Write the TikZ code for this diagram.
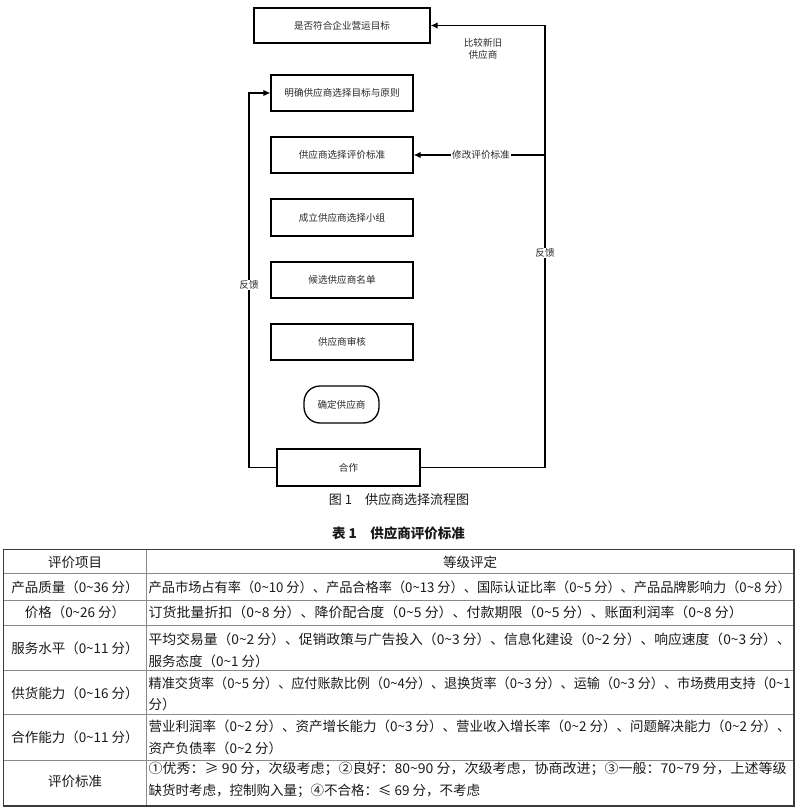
\documentclass[tikz,border=0pt]{standalone}
\usepackage{fontspec}
\usepackage{graphicx}
\setmainfont{Noto Sans CJK SC}
\usetikzlibrary{arrows.meta}
\newcommand{\fcfont}{\fontsize{9.6}{11.5}\selectfont}
\newcommand{\tbfont}{\fontsize{13.5}{16}\selectfont}
\newcommand{\fullline}[1]{\resizebox{642pt}{\height}{#1}}
\definecolor{txt}{HTML}{1A1A1A}
\definecolor{fctxt}{HTML}{2A2A2A}
\definecolor{outer}{HTML}{3A3A3A}
\definecolor{inner}{HTML}{8A8A8A}
\begin{document}
\begin{tikzpicture}[x=1pt,y=-1pt,
  fbox/.style={draw=black, line width=1.3pt, inner sep=0pt, font=\fcfont, text=fctxt},
  conn/.style={draw=black, line width=1.3pt},
  arr/.style={conn, -{Latex[length=7pt,width=6.5pt]}},
  lbl/.style={font=\fcfont, text=fctxt, inner sep=1pt},
  cellc/.style={font=\tbfont, text=txt, inner sep=0pt, anchor=center},
  celll/.style={font=\tbfont, text=txt, inner sep=0pt, anchor=west},
  hline/.style={draw=inner, line width=0.8pt}
]
\useasboundingbox[fill=white] (0,0) rectangle (800,810);

% ---------------- flowchart ----------------
\node[fbox, minimum width=176pt, minimum height=35pt] (b1) at (342,25.5) {是否符合企业营运目标};
\node[fbox, minimum width=142pt, minimum height=36pt] (b2) at (342,93) {明确供应商选择目标与原则};
\node[fbox, minimum width=142pt, minimum height=36pt] (b3) at (342,155) {供应商选择评价标准};
\node[fbox, minimum width=142pt, minimum height=37pt] (b4) at (342,217.5) {成立供应商选择小组};
\node[fbox, minimum width=142pt, minimum height=36pt] (b5) at (342,280) {候选供应商名单};
\node[fbox, minimum width=142pt, minimum height=36pt] (b6) at (342,342) {供应商审核};
\node[fbox, rounded corners=16pt, minimum width=75pt, minimum height=37pt] (b7) at (341.5,404.5) {确定供应商};
\node[fbox, minimum width=143pt, minimum height=37pt] (b8) at (348.5,467.5) {合作};

\coordinate (L1) at (249,467.5);
\coordinate (L2) at (249,93);
\coordinate (R1) at (545,467.5);
\coordinate (R2) at (545,25.5);
\coordinate (R3) at (545,155);

\draw[arr] (b8.west) -- (L1) -- (L2) -- (b2.west);
\draw[arr] (b8.east) -- (R1) -- (R2) -- (b1.east);
\draw[arr] (R3) -- (b3.east);

\node[lbl, fill=white] (fl) at (249,285) {反馈};
\node[lbl, fill=white] (fr) at (545,253) {反馈};
\node[lbl, fill=white] (xg) at (481,155) {修改评价标准};
\node[lbl, align=center] (bj) at (483,49) {比较新旧\\供应商};

% ---------------- captions ----------------
\node[font=\fontsize{13}{15}\selectfont, text=txt] (cap1) at (399,500) {图 1\quad 供应商选择流程图};
\node[font=\fontsize{13.5}{15}\selectfont\bfseries, text=txt] (cap2) at (398.5,533) {表 1\quad 供应商评价标准};

% ---------------- table ----------------
\foreach \yy in {573,600,625.5,670,714,760} {
  \draw[hline] (3.5,\yy) -- (794,\yy);
}
\draw[hline] (146,549.5) -- (146,806);
\draw[draw=outer, line width=1.5pt] (3.5,549.5) rectangle (794,806);

\node[cellc] (h1) at (75,562) {评价项目};
\node[cellc] (h2) at (470,562) {等级评定};

\node[cellc] (c1) at (75,587.5) {产品质量（0\textasciitilde 36 分）};
\node[celll] (d1) at (148.5,587.5) {\fullline{产品市场占有率（0\textasciitilde 10 分）、产品合格率（0\textasciitilde 13 分）、国际认证比率（0\textasciitilde 5 分）、产品品牌影响力（0\textasciitilde 8 分）}};

\node[cellc] (c2) at (75,612.5) {价格（0\textasciitilde 26 分）};
\node[celll] (d2) at (148.5,612.5) {\resizebox{594pt}{\height}{订货批量折扣（0\textasciitilde 8 分）、降价配合度（0\textasciitilde 5 分）、付款期限（0\textasciitilde 5 分）、账面利润率（0\textasciitilde 8 分）}};

\node[cellc] (c3) at (75,648) {服务水平（0\textasciitilde 11 分）};
\node[celll] (d3a) at (148.5,639) {\fullline{平均交易量（0\textasciitilde 2 分）、促销政策与广告投入（0\textasciitilde 3 分）、信息化建设（0\textasciitilde 2 分）、响应速度（0\textasciitilde 3 分）、}};
\node[celll] (d3b) at (148.5,661) {服务态度（0\textasciitilde 1 分）};

\node[cellc] (c4) at (75,693.5) {供货能力（0\textasciitilde 16 分）};
\node[celll] (d4a) at (148.5,683) {\fullline{精准交货率（0\textasciitilde 5 分）、应付账款比例（0\textasciitilde 4分）、退换货率（0\textasciitilde 3 分）、运输（0\textasciitilde 3 分）、市场费用支持（0\textasciitilde 1}};
\node[celll] (d4b) at (148.5,704) {分）};

\node[cellc] (c5) at (75,737) {合作能力（0\textasciitilde 11 分）};
\node[celll] (d5a) at (148.5,726) {\fullline{营业利润率（0\textasciitilde 2 分）、资产增长能力（0\textasciitilde 3 分）、营业收入增长率（0\textasciitilde 2 分）、问题解决能力（0\textasciitilde 2 分）、}};
\node[celll] (d5b) at (148.5,748) {资产负债率（0\textasciitilde 2 分）};

\node[cellc] (c6) at (75,781) {评价标准};
\node[celll] (d6a) at (148.5,769) {\resizebox{638pt}{\height}{①优秀：≥ 90 分，次级考虑；②良好：80\textasciitilde 90 分，次级考虑，协商改进；③一般：70\textasciitilde 79 分，上述等级}};
\node[celll] (d6b) at (148.5,791) {缺货时考虑，控制购入量；④不合格：≤ 69 分，不考虑};
\end{tikzpicture}
\end{document}
